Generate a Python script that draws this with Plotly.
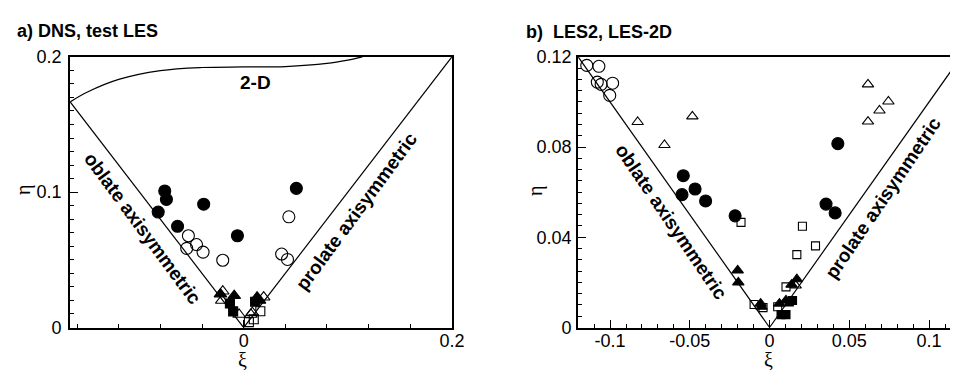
import plotly.graph_objects as go

W, H = 958, 374

# ---- panel a) DNS, test LES ----
a_fc_xi = [-0.0758, -0.0742, -0.0821, -0.0635, -0.0384, -0.0060, 0.0506]
a_fc_eta = [0.1009, 0.0946, 0.0853, 0.0748, 0.0911, 0.0678, 0.1028]
a_oc_xi = [-0.0531, -0.0547, -0.0453, -0.0390, -0.0201, 0.0434, 0.0365, 0.0421]
a_oc_eta = [0.0678, 0.0585, 0.0613, 0.0557, 0.0497, 0.0818, 0.0543, 0.0503]
a_ft_xi = [-0.0223, -0.0091, 0.0129, 0.0152]
a_ft_eta = [0.0247, 0.0235, 0.0224, 0.0200]
a_ot_xi = [-0.0201, -0.0210, -0.0044, 0.0083, 0.0192, 0.0069]
a_ot_eta = [0.0268, 0.0200, 0.0096, 0.0110, 0.0224, 0.0096]
a_fs_xi = [-0.0132, -0.0101, 0.0110]
a_fs_eta = [0.0177, 0.0119, 0.0190]
a_os_xi = [0.0097, 0.0160, 0.0050]
a_os_eta = [0.0061, 0.0120, 0.0040]

# ---- panel b) LES2, LES-2D ----
b_oc_xi = [-0.1146, -0.1070, -0.1080, -0.1056, -0.0984, -0.1002]
b_oc_eta = [0.1162, 0.1158, 0.1088, 0.1078, 0.1083, 0.1029]
b_ot_xi = [-0.0827, -0.0659, -0.0484, 0.0617, 0.0745, 0.0689, 0.0617, 0.0164]
b_ot_eta = [0.0911, 0.0809, 0.0936, 0.1078, 0.1002, 0.0962, 0.0913, 0.0186]
b_fc_xi = [-0.0541, -0.0549, -0.0467, -0.0401, -0.0216, 0.0428, 0.0354, 0.0411]
b_fc_eta = [0.0673, 0.0589, 0.0614, 0.0561, 0.0495, 0.0815, 0.0547, 0.0508]
b_os_xi = [-0.0179, 0.0206, 0.0288, 0.0171, 0.0103, -0.0097, -0.0041, 0.0051]
b_os_eta = [0.0466, 0.0449, 0.0362, 0.0323, 0.0180, 0.0102, 0.0088, 0.0092]
b_ft_xi = [-0.0200, -0.0196, -0.0056, -0.0050, 0.0062, 0.0103, 0.0138, 0.0171]
b_ft_eta = [0.0253, 0.0200, 0.0106, 0.0092, 0.0106, 0.0120, 0.0190, 0.0214]
b_fs_xi = [0.0072, 0.0103, 0.0144, 0.0124]
b_fs_eta = [0.0057, 0.0057, 0.0120, 0.0113]

# Lumley triangle boundaries
oblate_xi = [-1 / 6, 0]
oblate_eta = [1 / 6, 0]
prolate_xi = [0, 0.2]
prolate_eta = [0, 0.2]
twod_xi = [-1 / 6, -0.15, -0.12, -0.08, -0.04, 0.0, 0.04, 0.08, 0.10, 0.114]
twod_eta = [0.1667, 0.1740, 0.1833, 0.1898, 0.1921, 0.1925, 0.1928, 0.1951, 0.1976, 0.2]

FONT = "Liberation Sans, Arial, sans-serif"

fig = go.Figure()


def markers(xs, ys, symbol, size, xa, ya):
    fig.add_trace(go.Scatter(
        x=xs, y=ys, mode="markers", xaxis=xa, yaxis=ya, cliponaxis=False,
        marker=dict(symbol=symbol, size=size, color="black",
                    line=dict(color="black", width=1.1)),
        showlegend=False, hoverinfo="skip"))


def line(xs, ys, xa, ya, shape="linear"):
    fig.add_trace(go.Scatter(
        x=xs, y=ys, mode="lines", xaxis=xa, yaxis=ya,
        line=dict(color="black", width=1.2, shape=shape),
        showlegend=False, hoverinfo="skip"))


# panel a
line(oblate_xi, oblate_eta, "x", "y")
line(prolate_xi, prolate_eta, "x", "y")
line(twod_xi, twod_eta, "x", "y", shape="spline")
markers(a_fc_xi, a_fc_eta, "circle", 12, "x", "y")
markers(a_oc_xi, a_oc_eta, "circle-open", 12, "x", "y")
markers(a_ot_xi, a_ot_eta, "triangle-up-open", 11, "x", "y")
markers(a_ft_xi, a_ft_eta, "triangle-up", 11, "x", "y")
markers(a_os_xi, a_os_eta, "square-open", 9, "x", "y")
markers(a_fs_xi, a_fs_eta, "square", 9, "x", "y")

# panel b
line(oblate_xi, oblate_eta, "x2", "y2")
line(prolate_xi, prolate_eta, "x2", "y2")
markers(b_oc_xi, b_oc_eta, "circle-open", 12, "x2", "y2")
markers(b_ot_xi, b_ot_eta, "triangle-up-open", 10, "x2", "y2")
markers(b_fc_xi, b_fc_eta, "circle", 12, "x2", "y2")
markers(b_os_xi, b_os_eta, "square-open", 8, "x2", "y2")
markers(b_ft_xi, b_ft_eta, "triangle-up", 10, "x2", "y2")
markers(b_fs_xi, b_fs_eta, "square", 8, "x2", "y2")

ydom = [1 - 327 / H, 1 - 41 / H]
axis_common = dict(showline=True, linecolor="black", linewidth=2, showgrid=False,
                   zeroline=False, ticks="inside", ticklen=8, tickwidth=1,
                   tickcolor="black", tickfont=dict(family=FONT, size=18, color="black"))

fig.update_layout(
    width=W, height=H, margin=dict(l=0, r=0, t=0, b=0),
    paper_bgcolor="white", plot_bgcolor="white",
    xaxis=dict(domain=[63 / W, 450 / W], range=[-1 / 6, 0.2], mirror=True,
               tickvals=[0, 0.2], ticktext=["0", "0.2"], ticklabelstandoff=-4,
               minor=dict(dtick=0.04, tick0=0, ticks="inside", ticklen=4, tickcolor="black"),
               anchor="y", **axis_common),
    yaxis=dict(domain=ydom, range=[0, 0.2], mirror=True, ticklabelstandoff=3,
               tickvals=[0, 0.1, 0.2], ticktext=["0", "0.1", "0.2"],
               minor=dict(dtick=0.01, tick0=0, ticks="inside", ticklen=4, tickcolor="black"),
               anchor="x", **axis_common),
    xaxis2=dict(domain=[578 / W, 1.0], range=[-0.12, 0.115], mirror=True,
                tickvals=[-0.1, -0.05, 0, 0.05, 0.1], ticklabelstandoff=-4,
                ticktext=["-0.1", "-0.05", "0", "0.05", "0.1"],
                minor=dict(dtick=0.01, tick0=0, ticks="inside", ticklen=4, tickcolor="black"),
                anchor="y2", **axis_common),
    yaxis2=dict(domain=ydom, range=[0, 0.12], mirror=False, ticklabelstandoff=1,
                tickvals=[0, 0.04, 0.08, 0.12], ticktext=["0", "0.04", "0.08", "0.12"],
                minor=dict(dtick=0.005, tick0=0, ticks="inside", ticklen=4, tickcolor="black"),
                anchor="x2", **axis_common),
)

title_font = dict(family=FONT, size=18, color="black", weight="bold")
bold = dict(family=FONT, size=19, color="black", weight="bold")
serif = dict(family="Liberation Serif, Times New Roman, serif", size=20, color="black")


def paper_text(text, px, py, font, xanchor="center", angle=0):
    fig.add_annotation(text=text, x=px / W, y=1 - py / H, xref="paper", yref="paper",
                       showarrow=False, font=font, xanchor=xanchor, yanchor="middle",
                       textangle=angle)


paper_text("a) DNS, test LES", 7, 14, title_font, xanchor="left")
paper_text("b)  LES2, LES-2D", 523, 15, title_font, xanchor="left")
paper_text("η", 15, 182, serif, angle=-90)
paper_text("ξ", 238, 361, serif)
paper_text("η", 534, 183, serif, angle=-90)
paper_text("ξ", 771, 361, serif)

# labels on the boundaries
fig.add_annotation(text="2-D", x=0.011, y=0.181, xref="x", yref="y", showarrow=False, font=bold)
fig.add_annotation(text="oblate axisymmetric", x=-0.097, y=0.073, xref="x", yref="y",
                   showarrow=False, font=bold, textangle=53.6)
fig.add_annotation(text="prolate axisymmetric", x=0.108, y=0.086, xref="x", yref="y",
                   showarrow=False, font=bold, textangle=-53.6)
fig.add_annotation(text="oblate axisymmetric", x=-0.0617, y=0.047, xref="x2", yref="y2",
                   showarrow=False, font=bold, textangle=55.8)
fig.add_annotation(text="prolate axisymmetric", x=0.0714, y=0.0575, xref="x2", yref="y2",
                   showarrow=False, font=bold, textangle=-55.8)

fig.write_html("out.html")
